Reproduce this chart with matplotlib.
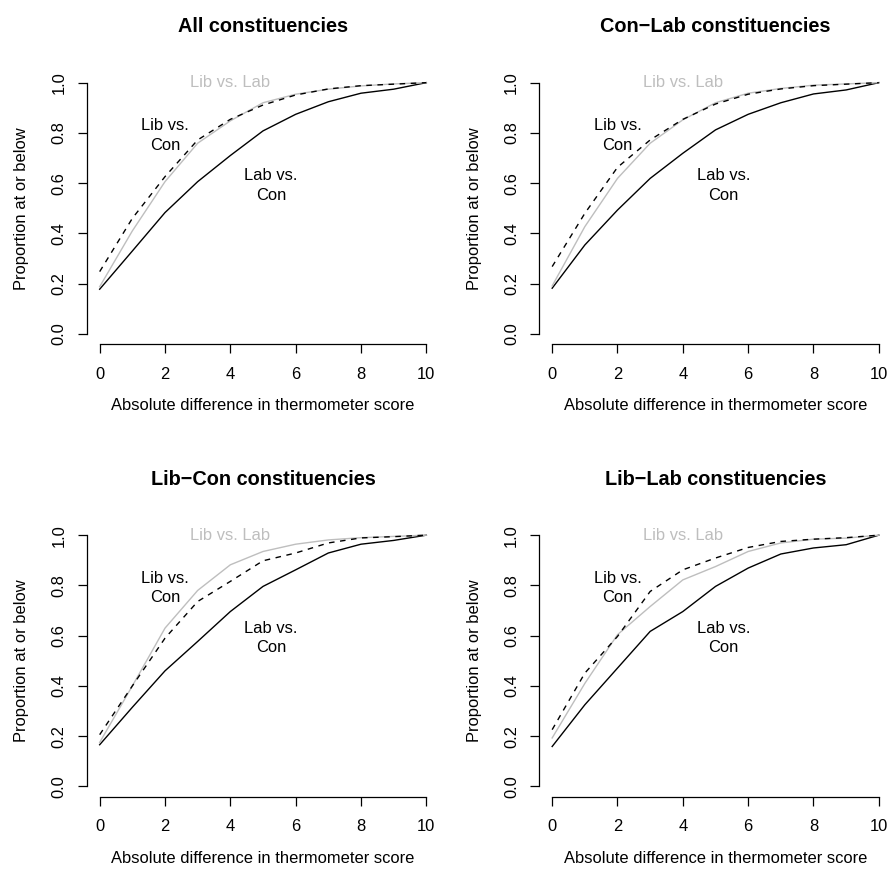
import matplotlib
matplotlib.use("Agg")
import matplotlib.pyplot as plt

plt.rcParams['font.family'] = ['Liberation Sans', 'DejaVu Sans']

# ---- data ----
diff_scores = [0, 1, 2, 3, 4, 5, 6, 7, 8, 9, 10]
panel_titles = ["All constituencies", "Con\u2212Lab constituencies",
                "Lib\u2212Con constituencies", "Lib\u2212Lab constituencies"]

lab_con_all = [0.178, 0.33, 0.483, 0.606, 0.71, 0.808, 0.874, 0.924, 0.958, 0.974, 1.0]
lib_lab_all = [0.188, 0.41, 0.606, 0.759, 0.848, 0.920, 0.954, 0.974, 0.987, 0.995, 1.0]
lib_con_all = [0.248, 0.46, 0.626, 0.772, 0.854, 0.911, 0.951, 0.975, 0.988, 0.994, 1.0]

lab_con_cl = [0.182, 0.354, 0.493, 0.619, 0.719, 0.812, 0.874, 0.920, 0.955, 0.971, 1.0]
lib_lab_cl = [0.191, 0.427, 0.619, 0.759, 0.852, 0.920, 0.958, 0.977, 0.990, 0.995, 1.0]
lib_con_cl = [0.268, 0.48, 0.663, 0.772, 0.854, 0.915, 0.954, 0.975, 0.988, 0.994, 1.0]

lab_con_lc = [0.166, 0.315, 0.460, 0.577, 0.696, 0.796, 0.862, 0.929, 0.964, 0.979, 1.0]
lib_lab_lc = [0.175, 0.40, 0.630, 0.780, 0.882, 0.935, 0.964, 0.981, 0.990, 0.995, 1.0]
lib_con_lc = [0.206, 0.40, 0.59, 0.736, 0.816, 0.898, 0.929, 0.969, 0.989, 0.994, 1.0]

lab_con_ll = [0.159, 0.325, 0.471, 0.617, 0.696, 0.796, 0.869, 0.925, 0.949, 0.962, 1.0]
lib_lab_ll = [0.193, 0.41, 0.604, 0.716, 0.822, 0.875, 0.935, 0.969, 0.984, 0.988, 1.0]
lib_con_ll = [0.226, 0.451, 0.597, 0.776, 0.862, 0.909, 0.951, 0.975, 0.984, 0.990, 1.0]

panels = [
    (lab_con_all, lib_lab_all, lib_con_all),
    (lab_con_cl, lib_lab_cl, lib_con_cl),
    (lab_con_lc, lib_lab_lc, lib_con_lc),
    (lab_con_ll, lib_lab_ll, lib_con_ll),
]
x_ticks = [0, 2, 4, 6, 8, 10]
y_ticks = [0.0, 0.2, 0.4, 0.6, 0.8, 1.0]
y_tick_labels = ["0.0", "0.2", "0.4", "0.6", "0.8", "1.0"]

# ---- layout (pixels) ----
W, H = 889, 876
fig = plt.figure(figsize=(W / 100, H / 100), dpi=100)
FS = 11.9
GRAY = "#BEBEBE"

left0, right0, top0, bot0 = 86.6, 439.4, 72.6, 344.0
step = 452.5

for i, (lab_con, lib_lab, lib_con) in enumerate(panels):
    r, c = divmod(i, 2)
    L = left0 + c * step
    R = right0 + c * step
    T = top0 + r * step
    B = bot0 + r * step
    ax = fig.add_axes([L / W, 1 - B / H, (R - L) / W, (B - T) / H])
    ax.set_xlim(-0.4, 10.4)
    ax.set_ylim(-0.04, 1.04)
    for s in ("top", "right"):
        ax.spines[s].set_visible(False)
    ax.spines['bottom'].set_bounds(0, 10)
    ax.spines['left'].set_bounds(0, 1)
    for s in ("bottom", "left"):
        ax.spines[s].set_linewidth(0.9)
    ax.set_xticks(x_ticks)
    ax.set_yticks(y_ticks)
    ax.set_yticklabels(y_tick_labels, rotation=90, va='center')
    ax.tick_params(axis='both', direction='out', length=6.7, width=0.9, labelsize=FS)
    ax.tick_params(axis='x', pad=9.8)
    ax.tick_params(axis='y', pad=7.6)

    ax.plot(diff_scores, lab_con, color='black', lw=1.0)
    ax.plot(diff_scores, lib_lab, color=GRAY, lw=1.0)
    ln, = ax.plot(diff_scores, lib_con, color='black', lw=1.0)
    ln.set_dashes((4, 4))

    ax.text(4, 1.0, "Lib vs. Lab", color=GRAY, fontsize=FS, ha='center', va='center')
    ax.text(2, 0.79, "Lib vs.\nCon", color='black', fontsize=FS, ha='center', va='center',
            linespacing=1.38)
    ax.text(5.25, 0.59, "Lab vs.\nCon", color='black', fontsize=FS, ha='center', va='center',
            linespacing=1.38)

    cx = (L + R) / 2
    fig.text(cx / W, 1 - (T - 46) / H, panel_titles[i], fontsize=FS * 1.2,
             fontweight='bold', ha='center', va='center')
    fig.text(cx / W, 1 - (B + 62) / H, "Absolute difference in thermometer score",
             fontsize=FS, ha='center', va='center')
    fig.text((L - 65) / W, 1 - ((T + B) / 2) / H, "Proportion at or below",
             fontsize=FS, rotation=90, ha='center', va='center')

fig.savefig("out.png", dpi=100)
